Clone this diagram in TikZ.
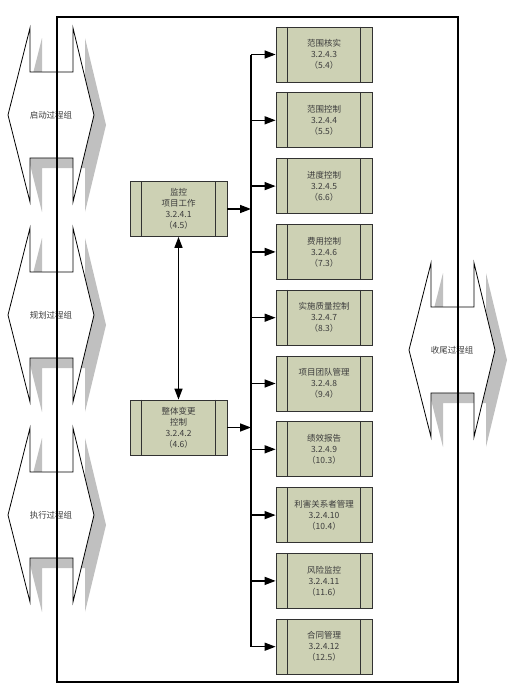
\documentclass[tikz,border=0pt]{standalone}
\usepackage{fontspec}
\usepackage{tikz}
\usetikzlibrary{arrows.meta}
\newfontfamily\cjk{Noto Sans CJK SC}
\definecolor{ProcBoxFill}{RGB}{205,209,180}
\definecolor{ProcBoxLine}{RGB}{50,50,50}
\definecolor{ProcText}{RGB}{60,60,60}
\definecolor{PhaseShadow}{RGB}{192,192,192}
\begin{document}
\begin{tikzpicture}[x=1pt,y=-1pt,
  procbox/.style={rectangle,draw=ProcBoxLine,fill=ProcBoxFill,line width=0.8pt,minimum width=96pt,minimum height=55pt,inner sep=0pt,align=center,text=ProcText,font={\cjk\fontsize{8.5}{11}\selectfont}},
  phase/.style={draw=black,fill=white,line width=0.8pt},
  phaseshadow/.style={fill=PhaseShadow,draw=none},
  phaselabel/.style={text=ProcText,font={\cjk\fontsize{8.5}{10}\selectfont}},
  link/.style={line width=1.4pt,-{Triangle[length=11pt,width=8pt]}},
  frame/.style={line width=2pt}]
\useasboundingbox (0,0) rectangle (507,699);
% process group arrows
\foreach \cx/\cy/\t/\n in %
{51/115/启动过程组/p1,51/315/规划过程组/p2,51/515/执行过程组/p3,452/350/收尾过程组/p4} {
   \fill[phaseshadow,shift={(\cx+12,\cy+10)}] (-21,-87) -- (-21,-43) -- (22,-43) -- (22,-87) -- (43,0) -- (22,87) -- (22,43) -- (-21,43) -- (-21,87) -- (-43,0) -- cycle;
   \draw[phase,shift={(\cx,\cy)}] (-21,-87) -- (-21,-43) -- (22,-43) -- (22,-87) -- (43,0) -- (22,87) -- (22,43) -- (-21,43) -- (-21,87) -- (-43,0) -- cycle;
   \node[phaselabel] (\n) at (\cx,\cy) {\t};
}
\draw[frame] (57,17) rectangle (458,682);
% left column
\node[procbox,minimum width=97pt] (mw) at (178.5,209) {监控\\项目工作\\3.2.4.1\\（4.5）};
\node[procbox,minimum width=97pt] (icc) at (178.5,427.5) {整体变更\\控制\\3.2.4.2\\（4.6）};
% right column
\foreach \i/\t/\num/\sec in %
{1/范围核实/3.2.4.3/5.4,2/范围控制/3.2.4.4/5.5,3/进度控制/3.2.4.5/6.6,4/费用控制/3.2.4.6/7.3,5/实施质量控制/3.2.4.7/8.3,6/项目团队管理/3.2.4.8/9.4,7/绩效报告/3.2.4.9/10.3,8/利害关系者管理/3.2.4.10/10.4,9/风险监控/3.2.4.11/11.6,10/合同管理/3.2.4.12/12.5} {
   \node[procbox] (b\i) at (324,54.5+65.8*\i-65.8) {\t\\\num\\（\sec）};
}
\foreach \n in {mw,icc,b1,b2,b3,b4,b5,b6,b7,b8,b9,b10} {
   \draw[ProcBoxLine,line width=0.8pt] ([xshift=12pt]\n.north west) -- ([xshift=12pt]\n.south west);
   \draw[ProcBoxLine,line width=0.8pt] ([xshift=-12pt]\n.north east) -- ([xshift=-12pt]\n.south east);
}
% connectors
\coordinate (bustop) at (251,54.5);
\coordinate (busbot) at (251,646.7);
\draw[line width=1.4pt] (bustop) -- (busbot);
\foreach \i in {1,...,10} {
   \draw[link] (bustop |- b\i.west) -- (b\i.west);
}
\draw[link] (mw.east) -- (mw.east -| bustop);
\draw[link] (icc.east) -- (icc.east -| bustop);
\draw[link,{Triangle[length=11pt,width=8pt]}-{Triangle[length=11pt,width=8pt]}] (mw.south) -- (icc.north);
\end{tikzpicture}
\end{document}
